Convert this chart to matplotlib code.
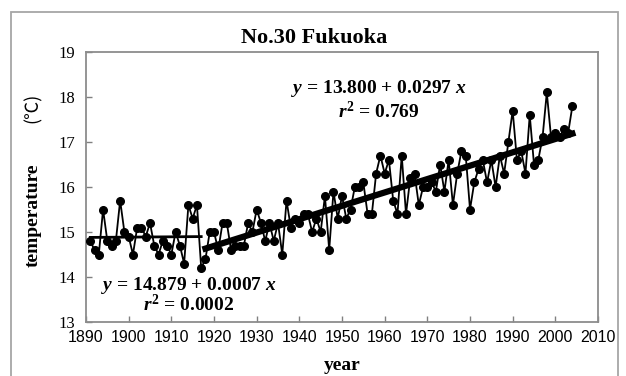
import numpy as np
import matplotlib.pyplot as plt
from matplotlib.patches import Rectangle

plt.rcParams['font.family'] = ['Liberation Serif', 'DejaVu Serif']
plt.rcParams['mathtext.fontset'] = 'custom'
plt.rcParams['mathtext.rm'] = 'Liberation Serif:bold'
plt.rcParams['mathtext.it'] = 'Liberation Serif:italic:bold'

# annual mean temperature, Fukuoka
years_early = list(range(1891, 1918))
temps_early = [14.8, 14.6, 14.5, 15.5, 14.8, 14.7, 14.8, 15.7, 15.0, 14.9,
               14.5, 15.1, 15.1, 14.9, 15.2, 14.7, 14.5, 14.8, 14.7, 14.5,
               15.0, 14.7, 14.3, 15.6, 15.3, 15.6, 14.2]
years_late = list(range(1918, 2005))
temps_late = [14.4, 15.0, 15.0, 14.6, 15.2, 15.2, 14.6, 14.7, 14.7, 14.7,
              15.2, 15.0, 15.5, 15.2, 14.8, 15.2, 14.8, 15.2, 14.5, 15.7,
              15.1, 15.3, 15.2, 15.4, 15.4, 15.0, 15.3, 15.0, 15.8, 14.6,
              15.9, 15.3, 15.8, 15.3, 15.5, 16.0, 16.0, 16.1, 15.4, 15.4,
              16.3, 16.7, 16.3, 16.6, 15.7, 15.4, 16.7, 15.4, 16.2, 16.3,
              15.6, 16.0, 16.0, 16.1, 15.9, 16.5, 15.9, 16.6, 15.6, 16.3,
              16.8, 16.7, 15.5, 16.1, 16.4, 16.6, 16.1, 16.6, 16.0, 16.7,
              16.3, 17.0, 17.7, 16.6, 16.8, 16.3, 17.6, 16.5, 16.6, 17.1,
              18.1, 17.1, 17.2, 17.1, 17.3, 17.2, 17.8]

# regression y = a + b*x, x = year - 1890
base_year = 1890
fit_early = (14.879, 0.0007, 0.0002)
fit_late = (13.800, 0.0297, 0.769)

x_ticks = list(range(1890, 2011, 10))
y_ticks = list(range(13, 20))


def fit_line(years, fit):
    a, b, _ = fit
    xs = np.array([years[0], years[-1]])
    return xs, a + b * (xs - base_year)


fig = plt.figure(figsize=(6.26, 3.76), dpi=100)
ax = fig.add_axes([86 / 626, 1 - 322 / 376, 512 / 626, 270 / 376])

years = years_early + years_late
temps = temps_early + temps_late
ax.plot(years, temps, color='black', lw=1.3, marker='o', ms=5.5, zorder=3)

xs, ys = fit_line(years_early, fit_early)
ax.plot(xs, ys, color='black', lw=2, zorder=4)
xs, ys = fit_line(years_late, fit_late)
ax.plot(xs, ys, color='black', lw=4.5, zorder=4)

ax.set_xlim(1890, 2010)
ax.set_ylim(13, 19)
ax.set_xticks(x_ticks)
ax.set_yticks(y_ticks)
ax.set_xticklabels([str(t) for t in x_ticks], family='Liberation Sans', fontsize=11.5)
ax.set_yticklabels([str(t) for t in y_ticks], fontsize=12)
ax.tick_params(direction='in', length=4, color='#808080', width=1)
ax.tick_params(axis='x', pad=6)
ax.tick_params(axis='y', pad=8)
for s in ax.spines.values():
    s.set_color('#8c8c8c')
    s.set_linewidth(1.3)

eq_font = dict(fontsize=14, fontweight='bold', ha='center', va='center',
               transform=ax.transAxes)
a, b, r2 = fit_early
ax.text(0.201, 0.137, '$y$ = %.3f + %.4f $x$' % (a, b), **eq_font)
ax.text(0.201, 0.063, '$r^2$ = %.4f' % r2, **eq_font)
a, b, r2 = fit_late
ax.text(0.572, 0.863, '$y$ = %.3f + %.4f $x$' % (a, b), **eq_font)
ax.text(0.572, 0.778, '$r^2$ = %.3f' % r2, **eq_font)

fig.text(314 / 626, 1 - 38 / 376, 'No.30 Fukuoka', fontsize=16,
         fontweight='bold', ha='center', va='center')
fig.text(342 / 626, 1 - 366 / 376, 'year', fontsize=14, fontweight='bold',
         ha='center', va='center')
fig.text(33 / 626, 1 - 215 / 376, 'temperature', fontsize=14, fontweight='bold',
         rotation=90, ha='center', va='center')
fig.text(33 / 626, 1 - 108 / 376, '(℃)', fontsize=13, rotation=90,
         family=['Noto Sans CJK JP', 'DejaVu Sans'], ha='center', va='center')

fig.add_artist(Rectangle((11 / 626, -0.05), 607 / 626, 364 / 376 + 0.05,
                         transform=fig.transFigure, fill=False,
                         ec='#a6a6a6', lw=1.3))

fig.savefig('out.png', dpi=100)
